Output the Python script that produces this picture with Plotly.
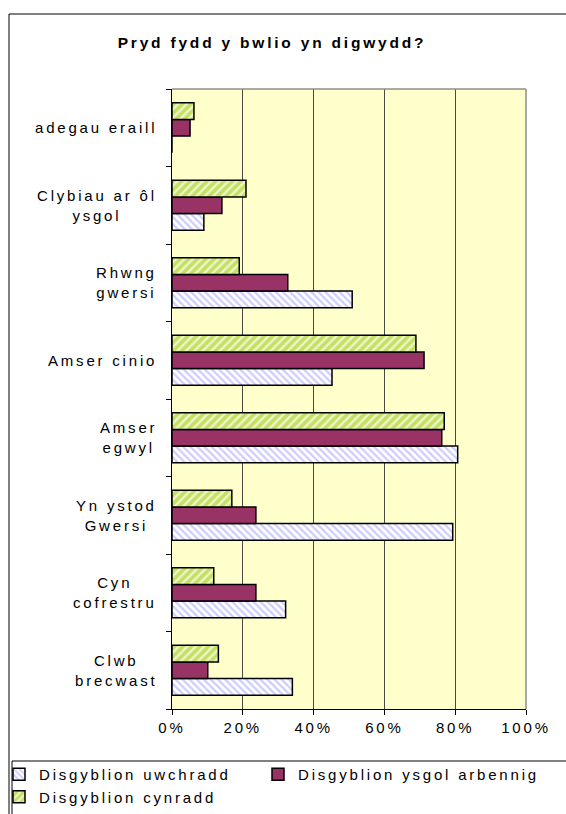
import plotly.graph_objects as go

# Categories listed bottom-to-top as they appear on the category axis
categories = [
    "Clwb<br>brecwast",
    "Cyn<br>cofrestru",
    "Yn ystod<br>Gwersi",
    "Amser<br>egwyl",
    "Amser cinio",
    "Rhwng<br>gwersi",
    "Clybiau ar ôl<br>ysgol",
    "adegau eraill",
]

# Percentage of pupils per group
uwchradd = [34.0, 32.1, 79.3, 80.7, 45.2, 50.9, 9.0, 0.0]
arbennig = [10.1, 23.7, 23.7, 76.2, 71.2, 32.7, 14.1, 5.1]
cynradd = [13.1, 11.8, 16.9, 76.9, 68.9, 19.0, 20.9, 6.2]

series_names = ["Disgyblion uwchradd", "Disgyblion ysgol arbennig", "Disgyblion cynradd"]
x_tick_values = [0, 20, 40, 60, 80, 100]
x_tick_labels = ["0%", "20%", "40%", "60%", "80%", "100%"]
title_text = "Pryd fydd y bwlio yn digwydd?"

FONT = "Liberation Sans, Arial, sans-serif"
SPACING = 2.8


def spaced(text):
    """Wrap each line in a span with extra letter spacing."""
    return "<br>".join(
        f'<span style="letter-spacing:{SPACING}px">{line}</span>' for line in text.split("<br>")
    )


# pixel geometry of the plot area inside the 566x814 page
W, H = 566, 814
PL, PR, PT, PB = 172, 526, 89, 709
pw, ph = PR - PL, PB - PT


def px_x(x):
    return (x - PL) / pw


def px_y(y):
    return (PB - y) / ph


fig = go.Figure()

fig.add_trace(go.Bar(
    y=categories, x=uwchradd, orientation="h", name=spaced(series_names[0]),
    legend="legend",
    marker=dict(
        color="white",
        line=dict(color="black", width=1.5),
        pattern=dict(shape="\\", fgcolor="#9999FF", bgcolor="white", size=5, solidity=0.45),
    ),
))
fig.add_trace(go.Bar(
    y=categories, x=arbennig, orientation="h", name=spaced(series_names[1]),
    legend="legend2",
    marker=dict(color="#993366", line=dict(color="black", width=1.5)),
))
fig.add_trace(go.Bar(
    y=categories, x=cynradd, orientation="h", name=spaced(series_names[2]),
    legend="legend",
    marker=dict(
        color="#99CC00",
        line=dict(color="black", width=1.5),
        pattern=dict(shape="/", fgcolor="#99CC00", bgcolor="#EEF5C8", size=6, solidity=0.6),
    ),
))

# category labels, centred line by line, to the left of the axis
annotations = [
    dict(
        x=0, xref="paper", y=cat, yref="y", xanchor="right", yanchor="middle",
        xshift=-13, align="center", showarrow=False,
        text=spaced(cat), font=dict(family=FONT, size=15, color="black"),
    )
    for cat in categories
]

shapes = [
    # outer chart frame
    dict(type="rect", xref="paper", yref="paper",
         x0=px_x(9), x1=px_x(W + 40), y0=px_y(H + 40), y1=px_y(14),
         line=dict(color="black", width=1), fillcolor="rgba(0,0,0,0)", layer="above"),
    # legend frame
    dict(type="rect", xref="paper", yref="paper",
         x0=px_x(12), x1=px_x(W + 40), y0=px_y(H + 40), y1=px_y(761),
         line=dict(color="black", width=1), fillcolor="rgba(0,0,0,0)", layer="above"),
    # grey plot-area border, top and right
    dict(type="line", xref="paper", yref="paper", x0=0, x1=1, y0=1, y1=1,
         line=dict(color="#8c8c8c", width=1.5), layer="above"),
    dict(type="line", xref="paper", yref="paper", x0=1, x1=1, y0=0, y1=1,
         line=dict(color="#8c8c8c", width=1.5), layer="above"),
]

legend_style = dict(
    orientation="v", traceorder="normal",
    xref="paper", xanchor="left",
    yref="paper", y=px_y(758), yanchor="top",
    bgcolor="rgba(0,0,0,0)", borderwidth=0,
    font=dict(family=FONT, size=15, color="black"),
    itemwidth=30,
)

fig.update_layout(
    width=W, height=H,
    margin=dict(l=PL, r=W - PR, t=PT, b=H - PB, autoexpand=False),
    paper_bgcolor="white",
    plot_bgcolor="#FFFFCC",
    barmode="group",
    bargap=0.355,
    bargroupgap=0,
    font=dict(family=FONT, size=15, color="black"),
    title=dict(
        text=f"<b>{spaced(title_text)}</b>",
        font=dict(family=FONT, size=15.5, color="black"),
        x=272 / W, xanchor="center", y=1 - 43 / H, yanchor="middle",
    ),
    xaxis=dict(
        range=[0, 100],
        tickvals=x_tick_values,
        ticktext=[spaced(t) for t in x_tick_labels],
        showgrid=True, gridcolor="#4a4a44", gridwidth=1,
        showline=True, linecolor="black", linewidth=1,
        ticks="outside", ticklen=5, tickcolor="black",
        zeroline=False, fixedrange=True,
        tickfont=dict(family=FONT, size=15, color="black"),
    ),
    yaxis=dict(
        categoryorder="array", categoryarray=categories,
        showticklabels=False, showgrid=False,
        showline=True, linecolor="black", linewidth=1,
        ticks="outside", ticklen=5, tickcolor="black", tickson="boundaries",
        fixedrange=True,
    ),
    legend=dict(legend_style, x=px_x(-1)),
    legend2=dict(legend_style, x=px_x(258)),
    annotations=annotations,
    shapes=shapes,
)

fig.write_html("out.html")
